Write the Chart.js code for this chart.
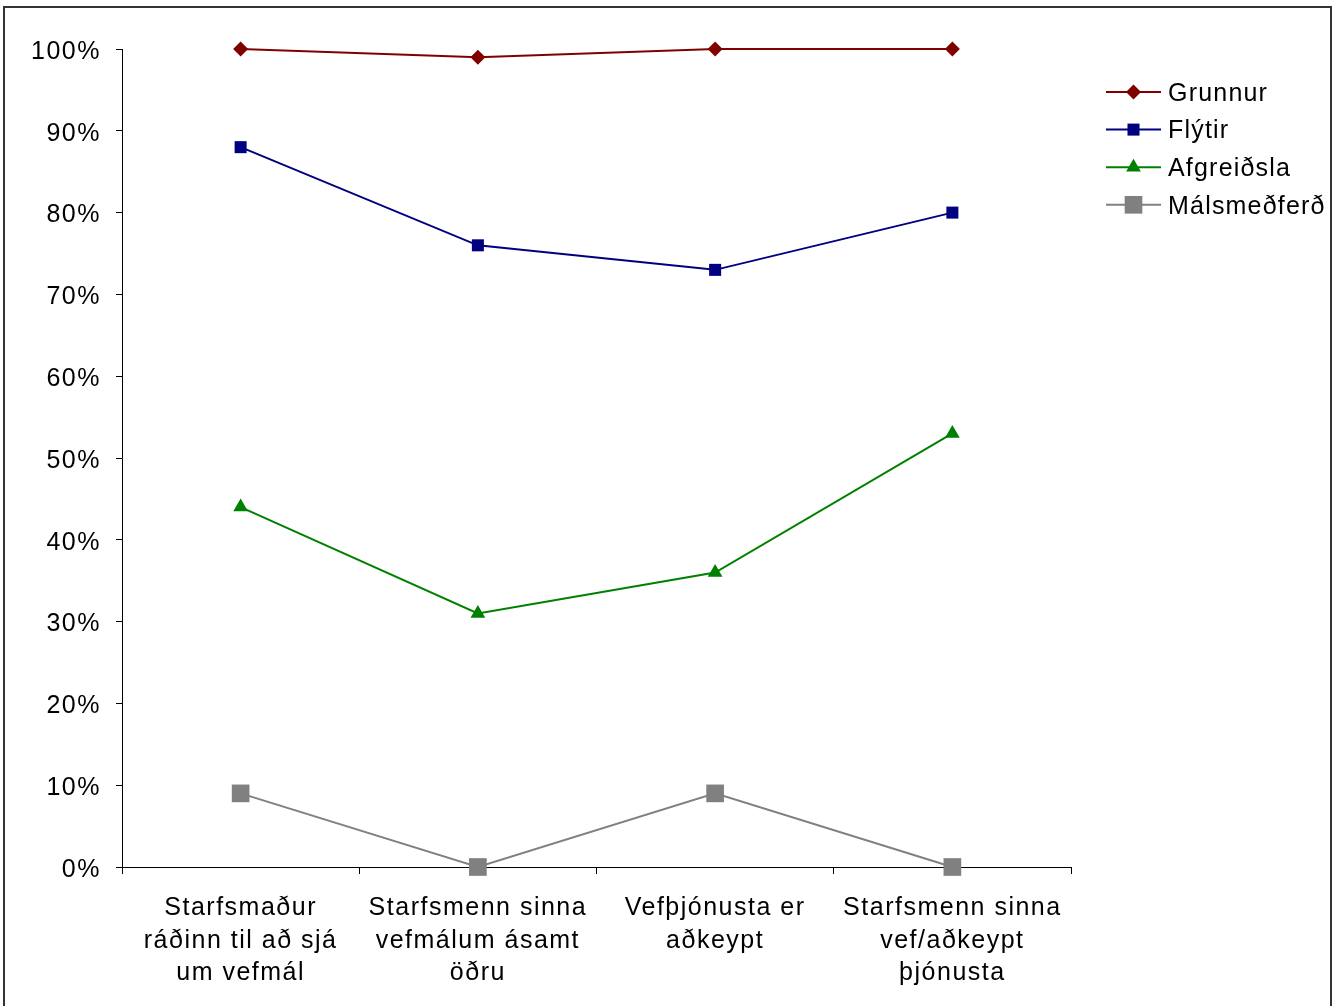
<!DOCTYPE html>
<html>
<head>
<meta charset="utf-8">
<script src="https://cdn.jsdelivr.net/npm/chart.js@4/dist/chart.umd.min.js"></script>
<style>
  html, body { margin: 0; padding: 0; background: #fff; overflow: hidden; }
  canvas { display: block; }
</style>
</head>
<body>
<canvas id="c" width="1338" height="1006"></canvas>
<script>
const categories = [
  ["Starfsmaður", "ráðinn til að sjá", "um vefmál"],
  ["Starfsmenn sinna", "vefmálum ásamt", "öðru"],
  ["Vefþjónusta er", "aðkeypt"],
  ["Starfsmenn sinna", "vef/aðkeypt", "þjónusta"]
];
const seriesNames = ["Grunnur", "Flýtir", "Afgreiðsla", "Málsmeðferð"];
const grunnur = [100, 99, 100, 100];
const flytir = [88, 76, 73, 80];
const afgreidsla = [44, 31, 36, 53];
const malsmedferd = [9, 0, 9, 0];

const FONT = { family: "'Liberation Sans', Arial, sans-serif", size: 25 };
const SPACING = '1.5px';

const styles = [
  { color: '#800000', pointStyle: 'rectRot', radius: 7.5 },
  { color: '#000080', pointStyle: 'rect', radius: 8.5 },
  { color: '#008000', pointStyle: 'triangle', radius: 8.5 },
  { color: '#808080', pointStyle: 'rect', radius: 12.5 }
];
const seriesValues = [grunnur, flytir, afgreidsla, malsmedferd];

const datasets = seriesNames.map((name, i) => ({
  label: name,
  data: seriesValues[i],
  borderColor: styles[i].color,
  backgroundColor: styles[i].color,
  pointBackgroundColor: styles[i].color,
  pointBorderColor: styles[i].color,
  pointBorderWidth: 0,
  pointStyle: styles[i].pointStyle,
  pointRadius: styles[i].radius,
  pointHoverRadius: styles[i].radius,
  borderWidth: 2,
  tension: 0,
  clip: false
}));

const spacingPlugin = {
  id: 'spacing',
  beforeUpdate(chart) { chart.ctx.letterSpacing = SPACING; },
  beforeLayout(chart) { chart.ctx.letterSpacing = SPACING; },
  afterLayout(chart) {
    const ys = chart.scales.y;
    if (ys && !ys._shifted) {
      const orig = ys.drawLabels;
      ys.drawLabels = function (area) {
        const c = this.ctx;
        c.save();
        c.translate(0, 3);
        orig.call(this, area);
        c.restore();
      };
      ys._shifted = true;
    }
  },
  beforeDraw(chart) { chart.ctx.letterSpacing = SPACING; }
};

const frameLegendPlugin = {
  id: 'frameLegend',
  afterDraw(chart) {
    const ctx = chart.ctx;
    ctx.save();
    // outer frame
    ctx.strokeStyle = '#333';
    ctx.lineWidth = 2;
    ctx.strokeRect(4, 7, 1327, 1020);
    // legend
    ctx.font = FONT.size + 'px ' + FONT.family;
    ctx.letterSpacing = '1.2px';
    ctx.textBaseline = 'middle';
    ctx.textAlign = 'left';
    chart.data.datasets.forEach((ds, i) => {
      const y = 92 + i * 37.6;
      ctx.strokeStyle = ds.borderColor;
      ctx.lineWidth = 2;
      ctx.beginPath();
      ctx.moveTo(1106, y);
      ctx.lineTo(1161, y);
      ctx.stroke();
      ctx.fillStyle = ds.borderColor;
      Chart.helpers.drawPoint(ctx, {
        pointStyle: ds.pointStyle, radius: ds.pointRadius, rotation: 0, borderWidth: 0
      }, 1133.5, y);
      ctx.fillStyle = '#000';
      ctx.fillText(ds.label, 1168, y + 2);
    });
    ctx.restore();
  }
};

new Chart(document.getElementById('c'), {
  type: 'line',
  data: { labels: categories, datasets },
  plugins: [spacingPlugin, frameLegendPlugin],
  options: {
    responsive: false,
    animation: false,
    devicePixelRatio: 1,
    layout: { padding: { top: 49, right: 267, left: 0, bottom: 0 } },
    plugins: { legend: { display: false }, tooltip: { enabled: false } },
    scales: {
      x: {
        offset: true,
        afterFit(scale) { scale.height = 139; },
        grid: { display: true, drawOnChartArea: false, drawTicks: true, tickLength: 7, color: '#000', offset: true },
        border: { display: true, color: '#000', width: 1 },
        ticks: { color: '#000', font: { ...FONT, lineHeight: 1.3 }, padding: 18, maxRotation: 0, autoSkip: false }
      },
      y: {
        min: 0, max: 100,
        afterFit(scale) { scale.width = 122; },
        grid: { display: true, drawOnChartArea: false, drawTicks: true, tickLength: 6, color: '#000' },
        border: { display: true, color: '#000', width: 1 },
        ticks: { color: '#000', font: FONT, padding: 15, stepSize: 10, callback: v => v + '%' }
      }
    }
  }
});
</script>
</body>
</html>
